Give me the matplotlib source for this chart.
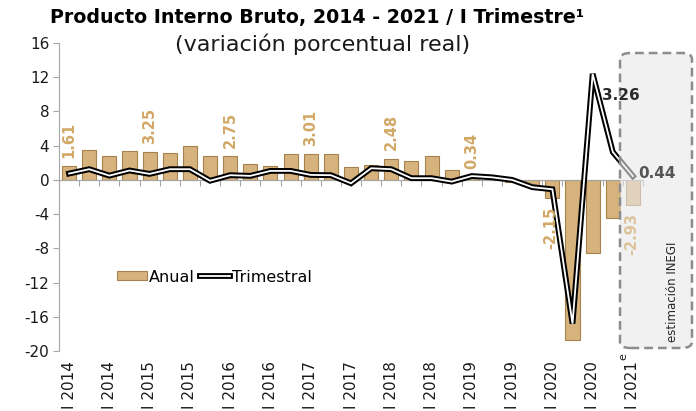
import numpy as np
import matplotlib
matplotlib.use("Agg")
import matplotlib.pyplot as plt
from matplotlib.patches import FancyBboxPatch
import matplotlib.patheffects as pe

quarters = ["I 2014", "II 2014", "III 2014", "IV 2014",
            "I 2015", "II 2015", "III 2015", "IV 2015",
            "I 2016", "II 2016", "III 2016", "IV 2016",
            "I 2017", "II 2017", "III 2017", "IV 2017",
            "I 2018", "II 2018", "III 2018", "IV 2018",
            "I 2019", "II 2019", "III 2019", "IV 2019",
            "I 2020", "II 2020", "III 2020", "IV 2020",
            "I 2021"]
anual = [1.61, 3.5, 2.85, 3.4, 3.25, 3.1, 4.0, 2.75, 2.75, 1.9, 1.65, 3.05,
         3.01, 3.0, 1.45, 1.7, 2.48, 2.15, 2.85, 1.2, 0.34, 0.2, -0.2, -0.6,
         -2.15, -18.7, -8.6, -4.5, -2.93]
trimestral = [0.74, 1.25, 0.5, 1.1, 0.7, 1.25, 1.25, -0.1, 0.55, 0.47, 1.05, 1.05,
              0.58, 0.55, -0.4, 1.36, 1.25, 0.2, 0.2, -0.2, 0.45, 0.3, 0.0, -0.85,
              -1.1, -16.8, 12.4, 3.26, 0.44]
anual_labels_idx = [0, 4, 8, 12, 16, 20, 24, 28]
yticks = [-20, -16, -12, -8, -4, 0, 4, 8, 12, 16]

BAR = "#D6B27C"
BAR_EDGE = "#A8824E"
LBL = "#D2A865"
GRAY = "#A6A6A6"

fig = plt.figure(figsize=(6.96, 4.11), dpi=100)
ax = fig.add_axes([59/696, 1-351/411, 584/696, 308/411])

x = np.arange(len(quarters))
bars = ax.bar(x, anual, width=0.7, color=BAR, edgecolor=BAR_EDGE, linewidth=0.8,
              zorder=2, label="Anual")
line, = ax.plot(x, trimestral, color="white", lw=1.3, zorder=3, label="Trimestral",
                solid_joinstyle="miter",
                path_effects=[pe.Stroke(linewidth=4.2, foreground="black"), pe.Normal()])

ax.set_xlim(-0.5, len(quarters) - 0.5)
ax.set_ylim(-20, 16)
ax.set_yticks(yticks)
ax.set_yticklabels([str(v) for v in yticks], fontsize=11, color="#1a1a1a")
ax.tick_params(axis="y", length=4, color=GRAY, pad=3)

for s in ["top", "right"]:
    ax.spines[s].set_visible(False)
ax.spines["left"].set_color(GRAY)
ax.spines["bottom"].set_position(("data", 0))
ax.spines["bottom"].set_color(GRAY)
ax.set_xticks(np.arange(-0.5, len(quarters), 1))
ax.tick_params(axis="x", length=4, color=GRAY, labelbottom=False, direction="out")

sec = ax.secondary_xaxis("bottom")
sec.spines["bottom"].set_visible(False)
sec.set_xticks(x[::2])
sec.set_xticklabels(quarters[::2], rotation=90, fontsize=11, color="#1a1a1a",
                    va="top", ha="center")
sec.tick_params(axis="x", length=0, pad=7.5)

# annual value labels
for i in anual_labels_idx:
    v = anual[i]
    col = LBL if i != len(anual) - 1 else "#DCC39B"
    if v >= 0:
        ax.annotate(f"{v:.2f}", (x[i], v), xytext=(0, 6), textcoords="offset points",
                    rotation=90, ha="center", va="bottom", fontsize=10.5,
                    fontweight="bold", color=col, zorder=6)
    else:
        ax.annotate(f"{v:.2f}", (x[i], v), xytext=(-1, -6), textcoords="offset points",
                    rotation=90, ha="center", va="top", fontsize=10.5,
                    fontweight="bold", color=col, zorder=6)

ax.annotate(f"{trimestral[27]:.2f}", (x[27], trimestral[27]), xytext=(-8, 41),
            textcoords="offset points", ha="left", va="center", fontsize=11,
            fontweight="bold", color="#2b2b2b", zorder=6)
ax.annotate(f"{trimestral[28]:.2f}", (x[28], trimestral[28]), xytext=(4, 2),
            textcoords="offset points", ha="left", va="center", fontsize=11,
            fontweight="bold", color="#555555", zorder=6)

# estimation box
box = FancyBboxPatch((620/696, 1-348/411), (692-620)/696, (348-53)/411,
                     boxstyle="round,pad=0,rounding_size=0.015",
                     transform=fig.transFigure, facecolor="#E8E8E8", alpha=0.6,
                     edgecolor="none", zorder=4, clip_on=False)
ax.add_artist(box)
box2 = FancyBboxPatch((620/696, 1-348/411), (692-620)/696, (348-53)/411,
                      boxstyle="round,pad=0,rounding_size=0.015",
                      transform=fig.transFigure, facecolor="none",
                      edgecolor="#8C8C8C", linestyle=(0, (3.5, 2)), lw=1.8,
                      zorder=5, clip_on=False)
ax.add_artist(box2)
fig.text(672/696, 1-292/411, "estimación INEGI", rotation=90, ha="center",
         va="center", fontsize=8.5, color="#262626")
fig.text(623/696, 1-357/411, "e", rotation=90, ha="center", va="center",
         fontsize=8, color="#1a1a1a")

leg = ax.legend(handles=[bars, line], labels=["Anual", "Trimestral"],
                loc="center left", bbox_to_anchor=(0.085, 0.24), ncol=2,
                frameon=False, fontsize=11.5, handlelength=1.9, handletextpad=0.1,
                columnspacing=0.35, borderpad=0, handleheight=0.5)

fig.text(0.456, 1-18/411, "Producto Interno Bruto, 2014 - 2021 / I Trimestre¹",
         ha="center", va="center", fontsize=13.7, fontweight="bold", color="#000000")
fig.text(0.463, 1-44/411, "(variación porcentual real)", ha="center", va="center",
         fontsize=16, color="#1a1a1a")

fig.savefig("out.png", dpi=100)
